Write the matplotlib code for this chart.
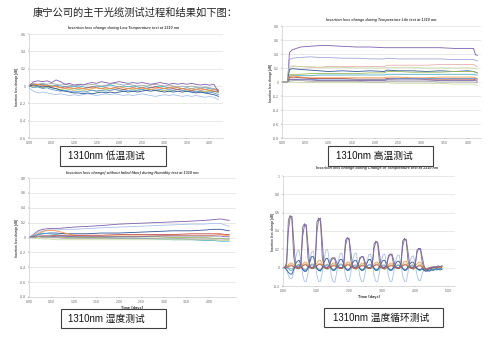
import matplotlib
matplotlib.use("Agg")
import matplotlib.pyplot as plt
from matplotlib.patches import Rectangle
import numpy as np

W, H = 500, 342

heading = "康宁公司的主干光缆测试过程和结果如下图："
captions = ["1310nm 低温测试", "1310nm 高温测试", "1310nm 湿度测试", "1310nm 温度循环测试"]
titles = [
    "Insertion loss change during Low Temperature test at 1310 nm",
    "Insertion loss change during Temperature Life test at 1310 nm",
    "Insertion loss change( without failed fiber) during Humidity test at 1310 nm",
    "Insertion loss change during Change of Temperature test at 1310 nm",
]
ylabel = "Insertion loss change [dB]"
xlabel = "Time [days]"

xticks_a = [0.0, 0.5, 1.0, 1.5, 2.0, 2.5, 3.0, 3.5, 4.0]
xticks_b = [0.0, 1.0, 2.0, 3.0, 4.0, 5.0]
yticks_a = [-0.6, -0.4, -0.2, 0.0, 0.2, 0.4, 0.6]
yticks_b = [-0.8, -0.6, -0.4, -0.2, 0.0, 0.2, 0.4, 0.6, 0.8]
yticks_c = [-0.2, 0.0, 0.2, 0.4, 0.6, 0.8, 1.0]

colors = {
    "purple": "#7d5fab", "darkblue": "#2f5597", "lightblue": "#a9c1ea",
    "orange": "#f79646", "red": "#c0504d", "teal": "#4bacc6",
    "green": "#9bbb59", "gray": "#a5a5a5", "steel": "#5b9bd5",
    "lavender": "#9ea6d8", "pink": "#e6b0ae", "lightgreen": "#c9dba4",
    "darkgray": "#6f6f6f", "violet": "#8064a2",
}

# --- low temperature test (sampled every 0.1 day, 0 .. 4.2) ---
low_purple = [0.00, 0.05, 0.06, 0.05, 0.06, 0.04, 0.07, 0.05, 0.02, 0.03, 0.01, 0.02, 0.01, 0.03, 0.04,
              0.03, 0.05, 0.04, 0.03, 0.04, 0.05, 0.04, 0.03, 0.04, 0.03, 0.04, 0.03, 0.02, 0.03, 0.04,
              0.03, 0.02, 0.03, 0.02, 0.03, 0.02, 0.03, 0.02, 0.01, 0.02, 0.01, 0.02, -0.07]
low_darkblue = [0.00, 0.01, 0.00, -0.01, 0.00, -0.02, -0.03, -0.05, -0.06, -0.07, -0.08, -0.08, -0.09, -0.08,
                -0.09, -0.08, -0.07, -0.08, -0.07, -0.08, -0.07, -0.06, -0.07, -0.06, -0.07, -0.06, -0.05,
                -0.06, -0.05, -0.06, -0.07, -0.06, -0.07, -0.06, -0.07, -0.06, -0.07, -0.08, -0.07, -0.08,
                -0.09, -0.10, -0.12]
low_lightblue = [-0.02, -0.06, -0.08, -0.07, -0.08, -0.09, -0.10, -0.09, -0.10, -0.11, -0.10, -0.11, -0.10,
                 -0.09, -0.10, -0.11, -0.10, -0.09, -0.10, -0.09, -0.10, -0.11, -0.10, -0.11, -0.10, -0.09,
                 -0.10, -0.11, -0.12, -0.11, -0.10, -0.11, -0.10, -0.11, -0.12, -0.11, -0.12, -0.11, -0.12,
                 -0.13, -0.12, -0.13, -0.16]
low_orange = [0.02, 0.01, 0.02, 0.00, 0.01, 0.00, -0.01, -0.02, -0.03, -0.02, -0.03, -0.02, -0.03, -0.04,
              -0.03, -0.02, -0.03, -0.02, -0.03, -0.02, -0.01, -0.02, -0.03, -0.02, -0.03, -0.02, -0.03,
              -0.04, -0.03, -0.02, -0.03, -0.02, -0.01, -0.02, -0.03, -0.04, -0.03, -0.04, -0.03, -0.04,
              -0.05, -0.04, -0.05]
low_red = [0.00, 0.01, 0.02, 0.01, 0.00, -0.01, 0.00, -0.02, -0.01, -0.02, -0.03, -0.02, -0.03, -0.02, -0.01,
           -0.02, -0.03, -0.02, -0.03, -0.02, -0.03, -0.04, -0.03, -0.02, -0.03, -0.02, -0.03, -0.02, -0.01,
           -0.02, -0.03, -0.02, -0.03, -0.04, -0.03, -0.04, -0.05, -0.04, -0.05, -0.04, -0.05, -0.06, -0.06]
low_teal = [0.01, 0.02, 0.01, 0.02, 0.01, 0.00, 0.01, 0.00, -0.01, 0.00, -0.01, 0.00, -0.01, -0.02, -0.01,
            0.00, -0.01, 0.00, 0.01, 0.00, -0.01, 0.00, -0.01, 0.00, -0.01, -0.02, -0.01, -0.02, -0.01, 0.00,
            -0.01, -0.02, -0.01, -0.02, -0.03, -0.02, -0.03, -0.02, -0.03, -0.02, -0.03, -0.04, -0.05]
low_green = [-0.01, 0.00, -0.01, -0.02, -0.01, -0.02, -0.03, -0.04, -0.03, -0.04, -0.05, -0.04, -0.05, -0.04,
             -0.05, -0.06, -0.05, -0.04, -0.05, -0.04, -0.05, -0.04, -0.03, -0.04, -0.05, -0.04, -0.05, -0.04,
             -0.05, -0.06, -0.05, -0.06, -0.05, -0.04, -0.05, -0.06, -0.05, -0.06, -0.07, -0.06, -0.07, -0.06,
             -0.08]
low_gray = [0.01, 0.03, 0.02, 0.03, 0.02, 0.03, 0.02, 0.01, 0.02, 0.01, 0.00, 0.01, 0.02, 0.01, 0.02, 0.01,
            0.00, 0.01, 0.02, 0.03, 0.02, 0.01, 0.02, 0.01, 0.00, 0.01, 0.00, 0.01, 0.02, 0.01, 0.00, 0.01,
            0.00, -0.01, 0.00, -0.01, 0.00, -0.01, -0.02, -0.01, -0.02, -0.03, -0.04]
low_steel = [0.00, -0.02, -0.01, -0.03, -0.02, -0.04, -0.05, -0.06, -0.05, -0.06, -0.07, -0.06, -0.07, -0.06,
             -0.05, -0.06, -0.05, -0.06, -0.05, -0.04, -0.05, -0.06, -0.05, -0.06, -0.05, -0.04, -0.05, -0.04,
             -0.05, -0.04, -0.03, -0.04, -0.05, -0.04, -0.05, -0.06, -0.07, -0.06, -0.07, -0.08, -0.07, -0.08,
             -0.10]

# --- temperature life test ---
t_life = [0, 0.12, 0.16, 0.22, 0.4, 0.6, 0.8, 1.0, 1.3, 1.6, 1.9, 2.2, 2.26, 2.5, 2.8, 3.1, 3.4, 3.7, 4.0,
          4.12, 4.16, 4.2]
life_purple = [0, 0, 0.42, 0.46, 0.50, 0.51, 0.52, 0.52, 0.51, 0.50, 0.50, 0.49, 0.49, 0.49, 0.49, 0.49, 0.49,
               0.48, 0.48, 0.48, 0.39, 0.38]
life_lavender = [0, 0, 0.32, 0.34, 0.35, 0.36, 0.35, 0.35, 0.34, 0.34, 0.33, 0.33, 0.34, 0.33, 0.33, 0.33,
                 0.33, 0.32, 0.32, 0.32, 0.31, 0.30]
life_pink = [0, 0, 0.21, 0.22, 0.22, 0.21, 0.21, 0.22, 0.22, 0.22, 0.22, 0.22, 0.24, 0.24, 0.24, 0.24, 0.25,
             0.25, 0.25, 0.25, 0.23, 0.22]
life_lightgreen = [0, 0, 0.22, 0.23, 0.22, 0.22, 0.21, 0.21, 0.21, 0.20, 0.20, 0.20, 0.21, 0.21, 0.21, 0.20,
                   0.20, 0.20, 0.20, 0.20, 0.19, 0.19]
life_darkblue = [0, 0, 0.18, 0.19, 0.18, 0.17, 0.16, 0.15, 0.16, 0.15, 0.16, 0.15, 0.17, 0.16, 0.16, 0.15,
                 0.16, 0.15, 0.16, 0.15, 0.14, 0.13]
life_green = [0, 0, 0.10, 0.11, 0.11, 0.12, 0.12, 0.12, 0.12, 0.12, 0.13, 0.13, 0.15, 0.15, 0.14, 0.14, 0.14,
              0.15, 0.15, 0.15, 0.14, 0.13]
life_teal = [0, 0, 0.08, 0.09, 0.09, 0.09, 0.10, 0.10, 0.10, 0.10, 0.10, 0.10, 0.11, 0.11, 0.11, 0.11, 0.11,
             0.11, 0.11, 0.11, 0.10, 0.10]
life_orange = [0, 0, 0.08, 0.09, 0.07, 0.06, 0.06, 0.06, 0.06, 0.06, 0.06, 0.06, 0.07, 0.07, 0.06, 0.06, 0.07,
               0.07, 0.07, 0.07, 0.06, 0.05]
life_red = [0, 0, 0.06, 0.07, 0.06, 0.05, 0.05, 0.05, 0.05, 0.04, 0.04, 0.04, 0.05, 0.05, 0.05, 0.04, 0.04,
            0.04, 0.04, 0.04, 0.03, 0.03]
life_steel = [0, 0, 0.04, 0.04, 0.04, 0.04, 0.03, 0.03, 0.03, 0.03, 0.03, 0.03, 0.04, 0.05, 0.05, 0.05, 0.05,
              0.05, 0.05, 0.05, 0.05, 0.04]
life_violet = [0, 0, 0.03, 0.04, 0.03, 0.03, 0.02, 0.02, 0.02, 0.02, 0.02, 0.02, 0.03, 0.03, 0.03, 0.03, 0.02,
               0.02, 0.02, 0.02, 0.02, 0.01]
life_yellowgreen = [0, 0, 0.00, 0.00, -0.01, -0.01, -0.01, -0.01, -0.01, -0.01, -0.01, -0.01, -0.01, -0.02,
                    -0.02, -0.02, -0.02, -0.03, -0.03, -0.03, -0.04, -0.05]
life_gray = [0, 0, 0.01, 0.02, 0.02, 0.01, 0.01, 0.01, 0.01, 0.01, 0.00, 0.00, 0.01, 0.01, 0.01, 0.01, 0.00,
             0.00, 0.00, 0.00, -0.01, -0.01]

# --- humidity test ---
t_hum = [0, 0.1, 0.2, 0.3, 0.45, 0.6, 0.8, 1.0, 1.3, 1.6, 2.0, 2.4, 2.8, 3.2, 3.6, 3.9, 4.1, 4.25, 4.35, 4.45]
hum_purple = [0, 0.04, 0.09, 0.11, 0.12, 0.12, 0.13, 0.14, 0.15, 0.16, 0.18, 0.19, 0.20, 0.21, 0.22, 0.23,
              0.24, 0.25, 0.24, 0.23]
hum_lightblue = [0, 0.03, 0.07, 0.09, 0.10, 0.10, 0.11, 0.11, 0.12, 0.13, 0.14, 0.15, 0.16, 0.17, 0.18, 0.18,
                 0.19, 0.19, 0.17, 0.15]
hum_darkblue = [0, 0.02, 0.04, 0.05, 0.06, 0.06, 0.05, 0.05, 0.05, 0.06, 0.06, 0.07, 0.08, 0.09, 0.09, 0.10,
                0.11, 0.11, 0.10, 0.09]
hum_orange = [0, 0.02, 0.05, 0.08, 0.10, 0.09, 0.06, 0.03, 0.02, 0.02, 0.02, 0.02, 0.02, 0.03, 0.03, 0.03,
              0.03, 0.04, 0.03, 0.03]
hum_teal = [0, 0.02, 0.04, 0.06, 0.05, 0.04, 0.02, 0.01, 0.00, 0.00, -0.01, -0.01, -0.02, -0.03, -0.03, -0.04,
            -0.04, -0.05, -0.05, -0.05]
hum_red = [0, 0.01, 0.02, 0.02, 0.02, 0.03, 0.03, 0.03, 0.03, 0.03, 0.04, 0.04, 0.04, 0.04, 0.05, 0.05, 0.05,
           0.05, 0.04, 0.04]
hum_green = [0, 0.00, 0.01, 0.01, 0.01, 0.01, 0.00, 0.00, 0.00, 0.00, 0.01, 0.01, 0.01, 0.00, 0.00, 0.00,
             -0.01, -0.01, -0.02, -0.02]
hum_lightgreen = [0, -0.01, -0.01, -0.02, -0.02, -0.03, -0.03, -0.03, -0.03, -0.03, -0.03, -0.03, -0.03,
                  -0.03, -0.03, -0.03, -0.03, -0.04, -0.04, -0.04]
hum_violet = [0, 0.01, 0.01, 0.02, 0.02, 0.01, 0.01, 0.01, 0.01, 0.01, 0.01, 0.01, 0.02, 0.02, 0.02, 0.02,
              0.02, 0.02, 0.01, 0.01]
hum_gray = [0, 0.00, 0.01, 0.00, 0.00, 0.00, -0.01, -0.01, -0.01, -0.01, -0.01, -0.01, -0.01, -0.01, -0.02,
            -0.02, -0.02, -0.02, -0.02, -0.02]

# --- temperature cycling test (sampled every 0.054 day) ---
t_cyc = np.arange(90) * 0.054
cyc_purple = [0.00, 0.00, 0.02, 0.40, 0.55, 0.56, 0.30, 0.02,
              0.01, 0.00, 0.02, 0.34, 0.46, 0.47, 0.25, 0.02,
              0.00, 0.01, 0.02, 0.39, 0.53, 0.54, 0.28, 0.02,
              0.00, 0.01, 0.02, 0.08, 0.10, 0.11, 0.06, 0.01,
              0.00, 0.00, 0.02, 0.24, 0.32, 0.32, 0.17, 0.02,
              0.00, 0.01, 0.02, 0.09, 0.12, 0.12, 0.06, 0.01,
              0.00, 0.00, 0.02, 0.21, 0.28, 0.28, 0.15, 0.02,
              0.00, 0.01, 0.02, 0.11, 0.14, 0.15, 0.08, 0.01,
              0.00, 0.00, 0.02, 0.23, 0.31, 0.31, 0.17, 0.02,
              0.00, 0.01, 0.02, 0.16, 0.21, 0.21, 0.11, 0.02,
              -0.02, -0.03, 0.00, -0.01, 0.01, 0.00, 0.01, 0.02, 0.01, 0.02]
cyc_darkgray = [0.00, 0.00, 0.06, 0.52, 0.57, 0.52, 0.12, 0.01,
                0.00, 0.01, 0.05, 0.44, 0.48, 0.44, 0.10, 0.01,
                0.00, 0.00, 0.06, 0.50, 0.54, 0.50, 0.11, 0.01,
                0.00, 0.00, 0.02, 0.10, 0.11, 0.09, 0.02, 0.00,
                0.00, 0.00, 0.04, 0.30, 0.33, 0.30, 0.07, 0.01,
                0.00, 0.00, 0.02, 0.11, 0.12, 0.11, 0.02, 0.00,
                0.00, 0.00, 0.04, 0.26, 0.29, 0.26, 0.06, 0.01,
                0.00, 0.00, 0.02, 0.13, 0.15, 0.13, 0.03, 0.00,
                0.00, 0.00, 0.04, 0.29, 0.32, 0.29, 0.07, 0.01,
                0.00, 0.00, 0.03, 0.19, 0.21, 0.19, 0.05, 0.00,
                -0.02, -0.02, -0.01, 0.00, 0.00, 0.01, 0.00, 0.01, 0.01, 0.01]
cyc_lightblue = [0.00, 0.00, -0.03, -0.08, -0.12, -0.12, -0.05, 0.10,
                 0.18, 0.19, 0.08, -0.08, -0.15, -0.15, -0.06, 0.08,
                 0.17, 0.18, 0.06, -0.09, -0.15, -0.15, -0.05, 0.09,
                 0.19, 0.20, 0.07, -0.09, -0.15, -0.16, -0.06, 0.08,
                 0.15, 0.16, 0.05, -0.09, -0.15, -0.15, -0.05, 0.08,
                 0.15, 0.16, 0.05, -0.09, -0.15, -0.15, -0.06, 0.07,
                 0.14, 0.15, 0.05, -0.09, -0.15, -0.15, -0.05, 0.07,
                 0.14, 0.15, 0.04, -0.09, -0.15, -0.15, -0.05, 0.07,
                 0.13, 0.14, 0.04, -0.09, -0.15, -0.15, -0.05, 0.06,
                 0.12, 0.13, 0.04, -0.08, -0.14, -0.14, -0.06, -0.02,
                 -0.04, -0.03, -0.03, -0.02, -0.03, -0.02, -0.03, -0.02, -0.03, -0.02]
cyc_darkblue = [0.00, 0.00, -0.02, -0.05, -0.07, -0.07, -0.02, 0.04,
                0.07, 0.08, 0.03, -0.02, -0.04, -0.04, 0.00, 0.06,
                0.12, 0.12, 0.05, -0.01, -0.03, -0.03, 0.00, 0.06,
                0.10, 0.10, 0.04, -0.01, -0.03, -0.02, 0.01, 0.05,
                0.09, 0.09, 0.04, -0.01, -0.03, -0.02, 0.01, 0.05,
                0.08, 0.08, 0.03, -0.01, -0.03, -0.02, 0.01, 0.05,
                0.09, 0.09, 0.03, -0.01, -0.03, -0.02, 0.01, 0.05,
                0.08, 0.08, 0.03, -0.01, -0.03, -0.02, 0.01, 0.04,
                0.07, 0.07, 0.03, -0.01, -0.03, -0.02, 0.01, 0.04,
                0.06, 0.06, 0.02, -0.01, -0.02, -0.02, -0.01, -0.03,
                -0.04, -0.03, -0.04, -0.02, -0.03, -0.02, -0.01, -0.02, -0.01, -0.02]
cyc_orange = [0.00, 0.00, 0.01, 0.03, 0.05, 0.05, 0.03, 0.01,
              0.00, 0.00, 0.01, 0.04, 0.06, 0.06, 0.03, 0.01,
              0.00, 0.00, 0.02, 0.05, 0.08, 0.08, 0.04, 0.01,
              0.00, 0.00, 0.01, 0.03, 0.05, 0.05, 0.02, 0.01,
              0.00, 0.00, 0.02, 0.04, 0.06, 0.06, 0.03, 0.01,
              0.00, 0.00, 0.01, 0.03, 0.05, 0.05, 0.02, 0.01,
              0.00, 0.00, 0.02, 0.04, 0.06, 0.06, 0.03, 0.01,
              0.00, 0.00, 0.01, 0.03, 0.05, 0.05, 0.02, 0.01,
              0.00, 0.00, 0.02, 0.04, 0.07, 0.07, 0.03, 0.01,
              0.00, 0.00, 0.02, 0.04, 0.06, 0.06, 0.02, 0.00,
              -0.01, -0.02, 0.00, 0.01, 0.00, 0.01, 0.00, 0.01, 0.00, 0.01]
cyc_teal = [0.00, 0.01, 0.00, -0.01, -0.03, -0.03, -0.01, 0.01,
            0.02, 0.03, 0.01, -0.01, -0.03, -0.03, -0.01, 0.01,
            0.03, 0.03, 0.01, -0.01, -0.03, -0.04, -0.01, 0.01,
            0.02, 0.03, 0.01, -0.01, -0.03, -0.03, -0.01, 0.01,
            0.03, 0.03, 0.01, -0.01, -0.03, -0.03, -0.01, 0.01,
            0.02, 0.02, 0.01, -0.01, -0.03, -0.03, -0.01, 0.01,
            0.03, 0.03, 0.01, -0.01, -0.03, -0.03, -0.01, 0.01,
            0.02, 0.02, 0.01, -0.01, -0.03, -0.03, -0.01, 0.01,
            0.02, 0.03, 0.01, -0.01, -0.03, -0.03, -0.01, 0.01,
            0.02, 0.02, 0.00, -0.01, -0.03, -0.03, -0.02, -0.03,
            -0.03, -0.04, -0.02, -0.03, -0.02, -0.01, -0.02, -0.01, -0.02, -0.01]
cyc_green = [0.00, 0.00, 0.01, 0.02, 0.03, 0.03, 0.01, 0.00,
             -0.01, -0.01, 0.00, 0.02, 0.04, 0.04, 0.02, 0.00,
             -0.01, -0.01, 0.00, 0.02, 0.03, 0.04, 0.02, 0.00,
             -0.01, -0.02, 0.00, 0.02, 0.03, 0.03, 0.01, 0.00,
             -0.01, -0.01, 0.00, 0.02, 0.04, 0.04, 0.02, 0.00,
             -0.01, -0.02, 0.00, 0.02, 0.03, 0.03, 0.01, 0.00,
             -0.01, -0.01, 0.00, 0.02, 0.04, 0.04, 0.02, 0.00,
             -0.01, -0.02, 0.00, 0.02, 0.03, 0.03, 0.01, 0.00,
             -0.01, -0.01, 0.00, 0.02, 0.04, 0.04, 0.02, 0.00,
             -0.01, -0.02, 0.00, 0.01, 0.03, 0.03, 0.01, -0.02,
             -0.03, -0.02, -0.01, 0.00, -0.01, 0.00, 0.01, 0.00, 0.01, 0.00]
cyc_red = [0.00, 0.00, 0.00, 0.01, 0.02, 0.02, 0.01, 0.00,
           -0.01, -0.01, 0.00, 0.02, 0.03, 0.03, 0.01, 0.00,
           -0.01, -0.01, 0.01, 0.02, 0.04, 0.04, 0.02, 0.00,
           -0.01, -0.01, 0.00, 0.01, 0.02, 0.02, 0.01, 0.00,
           -0.01, -0.01, 0.01, 0.02, 0.03, 0.03, 0.01, 0.00,
           -0.01, -0.01, 0.00, 0.01, 0.02, 0.02, 0.01, 0.00,
           -0.01, -0.01, 0.01, 0.02, 0.03, 0.03, 0.01, 0.00,
           -0.01, -0.01, 0.00, 0.01, 0.02, 0.02, 0.01, 0.00,
           -0.01, -0.01, 0.01, 0.02, 0.03, 0.03, 0.01, 0.00,
           -0.01, -0.01, 0.00, 0.01, 0.02, 0.02, 0.00, -0.01,
           -0.02, -0.01, 0.00, -0.01, 0.00, 0.01, 0.00, 0.01, 0.00, 0.01]
cyc_gray = [0.00, 0.01, 0.01, 0.00, -0.01, -0.01, 0.00, 0.02,
            0.03, 0.04, 0.02, 0.00, -0.02, -0.02, 0.00, 0.02,
            0.04, 0.04, 0.02, 0.00, -0.02, -0.02, 0.00, 0.02,
            0.03, 0.04, 0.02, 0.00, -0.02, -0.02, 0.00, 0.02,
            0.04, 0.04, 0.02, 0.00, -0.02, -0.02, 0.00, 0.02,
            0.03, 0.03, 0.02, 0.00, -0.02, -0.02, 0.00, 0.02,
            0.03, 0.04, 0.02, 0.00, -0.02, -0.02, 0.00, 0.02,
            0.03, 0.03, 0.02, 0.00, -0.02, -0.02, 0.00, 0.02,
            0.03, 0.03, 0.02, 0.00, -0.02, -0.02, 0.00, 0.01,
            0.03, 0.03, 0.01, 0.00, -0.02, -0.02, -0.01, -0.02,
            -0.01, 0.00, -0.01, 0.00, 0.01, 0.00, 0.01, 0.00, 0.01, 0.02]


def px_box(x0, y0, x1, y1):
    return [x0 / W, 1 - y1 / H, (x1 - x0) / W, (y1 - y0) / H]


def fmt_y(v):
    return "0" if abs(v) < 1e-9 else f"{v:g}"


def style_axes(ax, xlim, ylim, xticks, yticks, xfmt):
    ax.set_xlim(*xlim)
    ax.set_ylim(*ylim)
    ax.set_xticks(xticks)
    ax.set_xticklabels([xfmt.format(x) for x in xticks])
    ax.set_yticks(yticks)
    ax.set_yticklabels([fmt_y(y) for y in yticks])
    ax.tick_params(labelsize=2.2, colors="#595959", length=1, width=0.3, pad=1.5)
    for s in ["top", "right"]:
        ax.spines[s].set_visible(False)
    for s in ["left", "bottom"]:
        ax.spines[s].set_color("#bfbfbf")
        ax.spines[s].set_linewidth(0.4)
    ax.yaxis.grid(True, color="#d9d9d9", linewidth=0.4)
    ax.set_axisbelow(True)


fig = plt.figure(figsize=(W / 100, H / 100), dpi=100)
fig.patch.set_facecolor("white")
cjk = ["Noto Sans CJK SC", "DejaVu Sans"]
latin_cjk = ["Liberation Sans", "Noto Sans CJK SC"]

fig.text(33 / W, 1 - 13 / H, heading, fontsize=7.4, family=cjk, color="#222222", va="center", ha="left")

lw = 0.6

# chart 1: low temperature
ax1 = fig.add_axes(px_box(29, 34, 223, 138))
style_axes(ax1, (0, 4.3), (-0.6, 0.6), xticks_a, yticks_a, "{:.2f}")
for name, vals in [("lightblue", low_lightblue), ("gray", low_gray), ("green", low_green),
                   ("steel", low_steel), ("teal", low_teal), ("red", low_red),
                   ("darkblue", low_darkblue), ("orange", low_orange), ("purple", low_purple)]:
    ax1.plot(np.linspace(0, 4.2, len(vals)), vals, color=colors[name], lw=lw)

# chart 2: temperature life
ax2 = fig.add_axes(px_box(282, 26, 481, 138))
style_axes(ax2, (0, 4.28), (-0.8, 0.8), xticks_a, yticks_b, "{:.2f}")
for name, vals in [("purple", life_purple), ("lavender", life_lavender), ("pink", life_pink),
                   ("lightgreen", life_lightgreen), ("darkblue", life_darkblue), ("green", life_green),
                   ("teal", life_teal), ("orange", life_orange), ("red", life_red),
                   ("steel", life_steel), ("violet", life_violet), ("lightgreen", life_yellowgreen),
                   ("gray", life_gray)]:
    ax2.plot(t_life, vals, color=colors[name], lw=lw)

# chart 3: humidity
ax3 = fig.add_axes(px_box(29, 178, 236, 297))
style_axes(ax3, (0, 4.6), (-0.8, 0.8), xticks_a, yticks_b, "{:.2f}")
for name, vals in [("purple", hum_purple), ("lightblue", hum_lightblue), ("darkblue", hum_darkblue),
                   ("orange", hum_orange), ("teal", hum_teal), ("red", hum_red), ("green", hum_green),
                   ("lightgreen", hum_lightgreen), ("violet", hum_violet), ("gray", hum_gray)]:
    ax3.plot(t_hum, vals, color=colors[name], lw=lw)
ax3.set_xlabel(xlabel, fontsize=2.4, fontweight="bold", color="#404040", labelpad=1)

# chart 4: temperature cycling
ax4 = fig.add_axes(px_box(283, 176, 455, 286))
style_axes(ax4, (0, 5.2), (-0.2, 1.0), xticks_b, yticks_c, "{:.2f}")
for name, vals in [("lightblue", cyc_lightblue), ("gray", cyc_gray), ("teal", cyc_teal),
                   ("green", cyc_green), ("red", cyc_red), ("darkblue", cyc_darkblue),
                   ("orange", cyc_orange), ("darkgray", cyc_darkgray), ("purple", cyc_purple)]:
    ax4.plot(t_cyc[:len(vals)], vals, color=colors[name], lw=lw)
ax4.set_xlabel(xlabel, fontsize=2.4, fontweight="bold", color="#404040", labelpad=1)

# titles and y labels
for (tx, ty), title in zip([(124, 28), (381, 20), (132, 173), (377, 168)], titles):
    fig.text(tx / W, 1 - ty / H, title, fontsize=2.7, fontweight="bold", fontstyle="italic",
             family="Liberation Sans", color="#404040", ha="center", va="center")
for (lx, ly) in [(17, 87), (271, 83), (17, 238), (273, 232)]:
    fig.text(lx / W, 1 - ly / H, ylabel, fontsize=2.2, fontweight="bold", family="Liberation Sans",
             color="#404040", ha="center", va="center", rotation=90)

# caption boxes
for (bx0, by0, bx1, by1, tx), cap in zip([(60, 146, 166, 166, 68), (328, 146, 433, 166, 336),
                                          (61, 309, 166, 328, 68), (324, 308, 443, 327, 333)], captions):
    fig.patches.append(Rectangle((bx0 / W, 1 - by1 / H), (bx1 - bx0) / W, (by1 - by0) / H,
                                 transform=fig.transFigure, facecolor="white", edgecolor="#404040",
                                 linewidth=0.8))
    fig.text(tx / W, 1 - (by0 + by1) / 2 / H, cap, fontsize=7, family=latin_cjk, color="#111111",
             ha="left", va="center")

fig.savefig("out.png", dpi=100)
